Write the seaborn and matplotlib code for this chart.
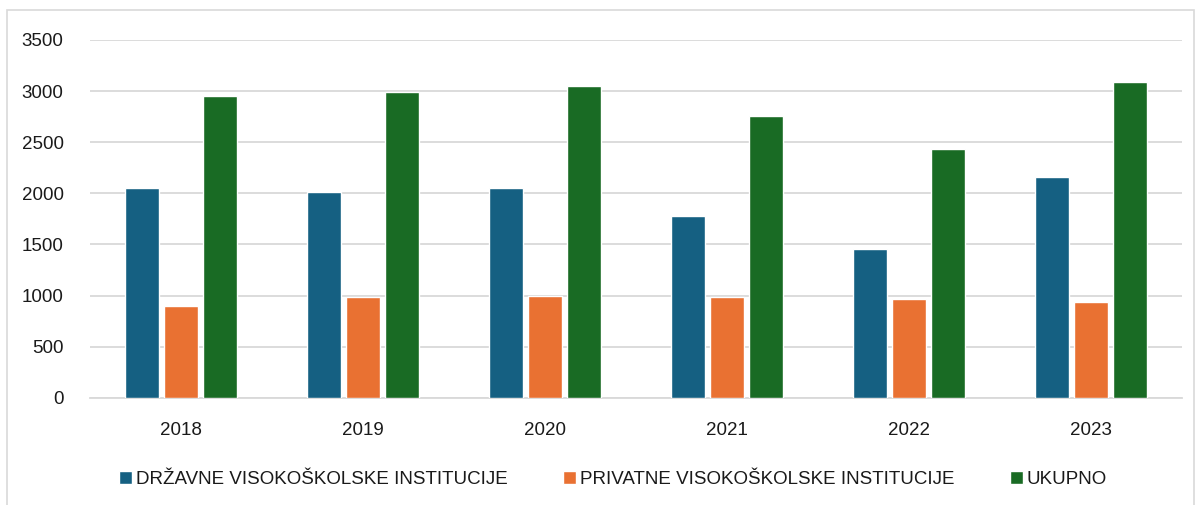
import seaborn as sns
import matplotlib.pyplot as plt
import pandas as pd
from matplotlib.patches import Rectangle

# values
years = ['2018', '2019', '2020', '2021', '2022', '2023']
drzavne = [2053, 2014, 2053, 1782, 1457, 2160]
privatne = [896, 984, 998, 984, 972, 933]
ukupno = [2951, 2993, 3045, 2759, 2434, 3084]
series = ['DRŽAVNE VISOKOŠKOLSKE INSTITUCIJE', 'PRIVATNE VISOKOŠKOLSKE INSTITUCIJE', 'UKUPNO']
colors = ['#156082', '#E97132', '#196B24']

df = pd.DataFrame({'year': years * 3,
                   'series': [series[0]] * 6 + [series[1]] * 6 + [series[2]] * 6,
                   'value': drzavne + privatne + ukupno})

sns.set_style('white')
plt.rcParams['font.family'] = ['Liberation Sans', 'DejaVu Sans']

fig = plt.figure(figsize=(12, 5.05), dpi=100)
ax = fig.add_axes([0.075, 0.212, 0.91, 0.709])

sns.barplot(data=df, x='year', y='value', hue='series', palette=colors, saturation=1,
            width=0.645, gap=0.12, ax=ax, legend=True, zorder=3)

ax.set_ylim(0, 3500)
ax.set_yticks(range(0, 3501, 500))
ax.yaxis.grid(True, color='#D9D9D9', linewidth=1.3, zorder=0)
ax.set_xlabel('')
ax.set_ylabel('')
for s in ['top', 'right', 'left']:
    ax.spines[s].set_visible(False)
ax.spines['bottom'].set_color('#D9D9D9')
ax.spines['bottom'].set_linewidth(1.3)
ax.tick_params(axis='both', length=0, labelsize=13.5, colors='#1a1a1a')
ax.tick_params(axis='x', pad=17)
ax.tick_params(axis='y', pad=19)

handles, labels = ax.get_legend_handles_labels()
ax.legend(handles, labels, loc='center', bbox_to_anchor=(0.479, -0.228),
          bbox_transform=ax.transAxes, ncol=3, frameon=False, fontsize=13.5,
          handlelength=0.68, handleheight=0.68, handletextpad=0.22, columnspacing=2.95,
          labelcolor='#1a1a1a')

fig.patches.append(Rectangle((0.006, -0.01), 0.989, 0.99, transform=fig.transFigure,
                             fill=False, edgecolor='#D9D9D9', linewidth=1.2))

fig.savefig('out.png', dpi=100)
